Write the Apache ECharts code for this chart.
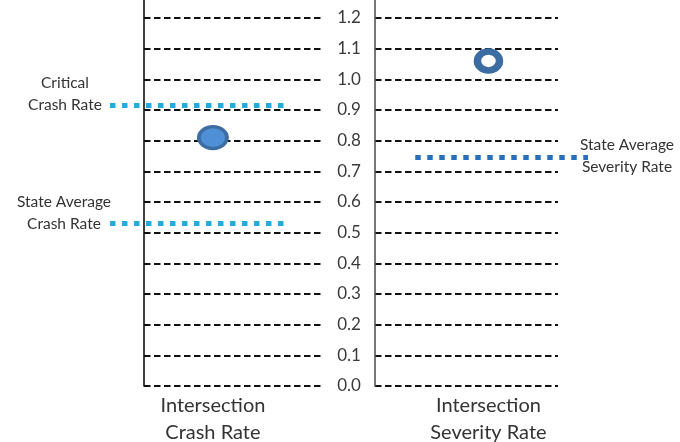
<!DOCTYPE html>
<html>
<head>
<meta charset="utf-8">
<script src="https://cdn.jsdelivr.net/npm/echarts@6/dist/echarts.min.js"></script>
<style>
html,body{margin:0;padding:0;background:#fff;}
#c{width:680px;height:442px;}
</style>
</head>
<body>
<div id="c"></div>
<script>
// ---- data ----
const categories = ['Intersection\nCrash Rate', 'Intersection\nSeverity Rate'];
const observedRates = [0.81, 1.06];          // intersection crash rate, severity rate
const criticalCrashRate = [0.915];
const stateAverageRates = [0.53, 0.745];      // state avg crash rate, state avg severity rate
const refLabels = ['Critical\nCrash Rate', 'State Average\nCrash Rate', 'State Average\nSeverity Rate'];
const yMin = 0, yStep = 0.1, yTop = 1.2;

// ---- layout (panel-relative positions) ----
const pointPos = [0.385, 0.62];
const leftSpan = [-0.19, 0.80];
const rightSpan = [0.22, 1.164];
const yMaxExt = 1.2587;
const P0 = { left: 144, width: 179 };
const P1 = { left: 375, width: 183 };
const gridTop = 0, gridBottom = 56;

const font = 'Lato, "Open Sans", sans-serif';
const gridDash = { color: '#111', width: 1.8, type: [6.5, 3.5] };

function yAx(grid, opts) {
  return Object.assign({
    gridIndex: grid, type: 'value', min: yMin, max: yMaxExt, interval: yStep,
    axisLine: { show: false }, axisTick: { show: false },
    axisLabel: { show: false }, splitLine: { show: false }
  }, opts);
}
function xAx(grid, idx) {
  return {
    gridIndex: grid, type: 'value', min: 0, max: 1,
    axisLine: { show: false }, axisTick: { show: false }, splitLine: { show: false },
    axisLabel: {
      customValues: [pointPos[idx]], formatter: () => categories[idx],
      fontFamily: font, fontSize: 20, lineHeight: 27, color: '#333', margin: 6
    }
  };
}
function xHidden(grid, min, max) {
  return {
    gridIndex: grid, type: 'value', min: min, max: max, show: false,
    axisLine: { show: false }, axisTick: { show: false }, splitLine: { show: false }, axisLabel: { show: false }
  };
}
function refLine(xi, yi, span, y, color, labelText, labelAtStart, lpos) {
  const pts = [[span[0], y], [span[1], y]];
  const lab = {
    show: true, formatter: labelText, position: lpos, align: 'center', verticalAlign: 'middle',
    fontFamily: font, fontSize: 15.5, lineHeight: 22, color: '#333'
  };
  return {
    type: 'line', xAxisIndex: xi, yAxisIndex: yi, clip: false, z: 5,
    symbol: 'circle', symbolSize: 0.01, showSymbol: true, showAllSymbol: true,
    itemStyle: { color: 'transparent' },
    lineStyle: { color: color, width: 5, type: [5.5, 6.5], cap: 'butt' },
    data: pts.map((p, i) => ({ value: p, label: (labelAtStart ? i === 0 : i === 1) ? lab : { show: false } })),
    silent: true
  };
}

const chart = echarts.init(document.getElementById('c'), null, { renderer: 'canvas' });
chart.setOption({
  animation: false,
  grid: [
    { left: P0.left, width: P0.width, top: gridTop, bottom: gridBottom, outerBoundsMode: 'none' },
    { left: P1.left, width: P1.width, top: gridTop, bottom: gridBottom, outerBoundsMode: 'none' },
    // overlay grids for reference lines (same scales, wider extent)
    { left: P0.left + leftSpan[0] * P0.width, width: P0.width * (1 - leftSpan[0]), top: gridTop, bottom: gridBottom, outerBoundsMode: 'none' },
    { left: P1.left, width: P1.width * rightSpan[1], top: gridTop, bottom: gridBottom, outerBoundsMode: 'none' }
  ],
  xAxis: [xAx(0, 0), xAx(1, 1), xHidden(2, leftSpan[0], 1), xHidden(3, 0, rightSpan[1])],
  yAxis: [
    yAx(0, { position: 'left', axisLine: { show: true, lineStyle: { color: '#111', width: 1.6 } },
      splitLine: { show: true, showMaxLine: false, lineStyle: gridDash } }),
    yAx(0, { position: 'right', axisLabel: { show: true, showMaxLabel: false, align: 'center', margin: 26,
      fontFamily: font, fontSize: 17, color: '#3a3a3a', formatter: v => v.toFixed(1) } }),
    yAx(1, { position: 'right', axisLine: { show: true, lineStyle: { color: '#555', width: 1.6 } },
      splitLine: { show: true, showMaxLine: false, lineStyle: gridDash } }),
    yAx(2, { show: false }),
    yAx(3, { show: false })
  ],
  series: [
    refLine(2, 3, leftSpan, criticalCrashRate[0], '#22abe2', refLabels[0], true, [-45, -11]),
    refLine(2, 3, leftSpan, stateAverageRates[0], '#22abe2', refLabels[1], true, [-46, -10]),
    refLine(3, 4, rightSpan, stateAverageRates[1], '#2a6fbd', refLabels[2], false, [39, -2]),
    {
      type: 'scatter', xAxisIndex: 0, yAxisIndex: 0, z: 6,
      symbol: 'circle', symbolSize: [28, 22],
      itemStyle: { color: '#4f8fd6', borderColor: '#3c6ea3', borderWidth: 3.5, opacity: 1 },
      data: [[pointPos[0], observedRates[0]]]
    },
    {
      type: 'scatter', xAxisIndex: 1, yAxisIndex: 2, z: 6,
      symbol: 'circle', symbolSize: [22, 19],
      itemStyle: { color: '#ffffff', borderColor: '#3b6ca2', borderWidth: 7, opacity: 1 },
      data: [[pointPos[1], observedRates[1]]]
    }
  ]
});
</script>
</body>
</html>
